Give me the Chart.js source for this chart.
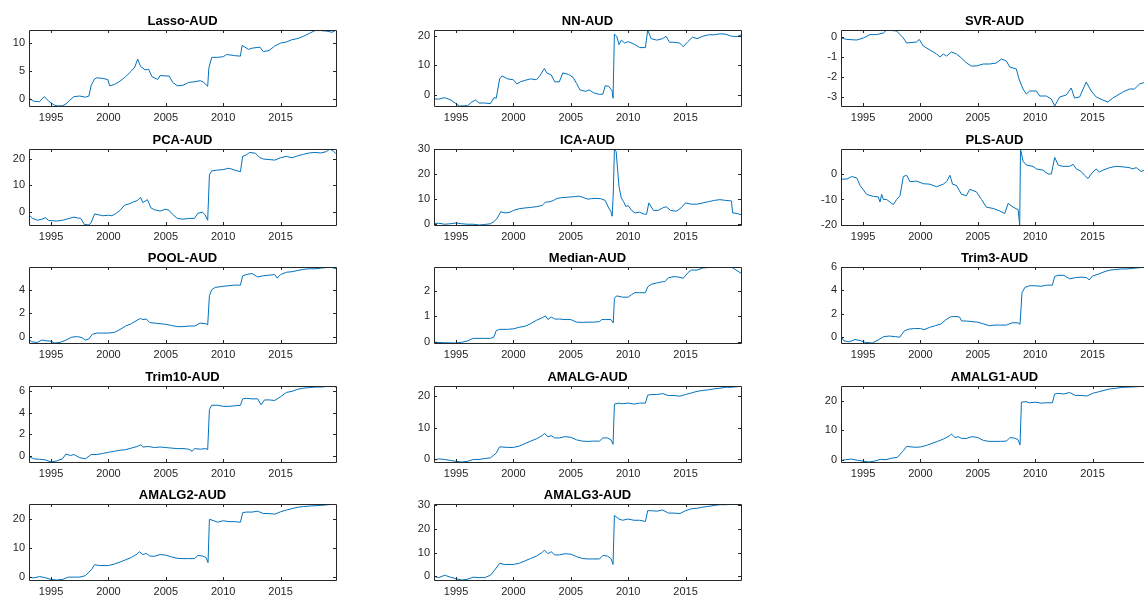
<!DOCTYPE html>
<html>
<head>
<meta charset="utf-8">
<title>AUD forecast series</title>
<script src="https://cdn.jsdelivr.net/npm/chart.js@4.4.1/dist/chart.umd.min.js"></script>
<style>
  html, body { margin: 0; padding: 0; background: #fff; }
  body { width: 1144px; height: 599px; position: relative; overflow: hidden; }
  canvas { position: absolute; }
</style>
</head>
<body>
<script>
// Cumulative series per model, [year, value] pairs

const lassoAud = [[1993.08,0.2],[1993.5,-0.3],[1994.0,-0.4],[1994.4,0.5],[1994.8,-0.3],[1995.0,-0.6],[1995.3,-1.0],[1995.6,-1.15],[1996.0,-1.1],[1996.3,-0.8],[1996.6,-0.2],[1997.0,0.5],[1997.5,0.6],[1998.0,0.4],[1998.3,0.6],[1998.5,2.5],[1998.8,3.6],[1999.0,3.8],[1999.5,3.7],[1999.95,3.5],[2000.1,2.4],[2000.5,2.6],[2001.0,3.2],[2001.5,4.0],[2002.0,5.0],[2002.3,5.7],[2002.55,7.1],[2002.8,5.8],[2003.2,5.2],[2003.5,5.3],[2003.8,4.0],[2004.3,3.5],[2004.5,4.2],[2005.3,4.1],[2005.6,3.0],[2006.0,2.4],[2006.5,2.5],[2007.0,3.0],[2007.5,3.1],[2008.0,3.3],[2008.3,3.0],[2008.65,2.3],[2008.75,5.5],[2009.0,7.4],[2009.5,7.4],[2010.0,7.5],[2010.3,7.9],[2011.0,7.7],[2011.5,7.6],[2011.65,9.5],[2012.2,8.8],[2012.5,9.0],[2013.2,9.2],[2013.5,8.4],[2014.0,8.6],[2014.5,9.4],[2015.0,9.9],[2015.5,10.1],[2016.0,10.5],[2016.5,10.7],[2017.0,11.1],[2017.5,11.6],[2018.0,12.1],[2018.5,12.1],[2019.0,12.0],[2019.5,11.8],[2019.83,12.2]];

const nnAud = [[1993.08,-1.2],[1993.5,-1.3],[1994.0,-0.8],[1994.5,-1.5],[1995.0,-2.8],[1995.3,-3.6],[1996.0,-3.5],[1996.4,-2.2],[1996.7,-1.6],[1997.0,-2.6],[1997.5,-2.6],[1998.0,-2.8],[1998.3,-0.8],[1998.5,-1.0],[1998.8,5.5],[1999.0,6.5],[1999.5,5.5],[2000.0,5.2],[2000.3,3.8],[2000.6,4.5],[2001.0,5.0],[2001.5,5.5],[2002.0,5.2],[2002.3,6.5],[2002.7,9.0],[2002.9,7.5],[2003.3,6.8],[2003.6,4.5],[2004.0,4.5],[2004.3,7.5],[2004.8,7.0],[2005.2,6.0],[2005.5,4.0],[2005.8,1.8],[2006.3,1.3],[2006.6,1.8],[2007.0,0.8],[2007.5,0.3],[2007.8,0.4],[2008.0,3.2],[2008.3,3.0],[2008.6,1.5],[2008.68,-1.0],[2008.8,20.5],[2009.0,19.8],[2009.2,17.0],[2009.4,18.5],[2009.7,17.5],[2010.0,18.0],[2010.5,17.2],[2011.0,16.0],[2011.5,16.0],[2011.7,21.9],[2012.0,19.0],[2012.5,18.5],[2013.0,19.0],[2013.3,19.8],[2013.6,17.8],[2014.0,17.8],[2014.5,17.5],[2014.8,16.3],[2015.2,18.0],[2015.6,19.5],[2016.0,19.0],[2016.5,19.8],[2017.0,20.3],[2017.5,20.3],[2018.0,20.6],[2018.5,20.5],[2019.0,19.8],[2019.5,19.7],[2019.83,20.3]];

const svrAud = [[1993.08,-0.05],[1993.58,-0.12],[1994.45,-0.15],[1995.03,-0.05],[1995.61,0.12],[1996.19,0.12],[1996.77,0.2],[1997.06,0.35],[1997.93,0.3],[1998.51,-0.05],[1998.8,-0.3],[1999.67,-0.25],[1999.9,-0.12],[2000.25,-0.45],[2000.83,-0.65],[2001.41,-0.85],[2001.7,-1.0],[2001.99,-0.85],[2002.28,-0.95],[2002.71,-0.75],[2003.14,-0.85],[2003.58,-1.05],[2004.01,-1.3],[2004.45,-1.45],[2004.88,-1.45],[2005.46,-1.35],[2006.04,-1.35],[2006.62,-1.3],[2007.06,-1.1],[2007.49,-1.2],[2007.78,-1.5],[2008.36,-1.6],[2008.59,-2.1],[2008.94,-2.6],[2009.23,-2.85],[2009.52,-2.7],[2010.1,-2.7],[2010.39,-2.95],[2010.97,-2.95],[2011.41,-3.1],[2011.7,-3.45],[2012.13,-3.0],[2012.71,-2.9],[2013.14,-2.55],[2013.43,-3.05],[2013.87,-3.0],[2014.45,-2.25],[2014.88,-2.7],[2015.32,-3.0],[2015.9,-3.15],[2016.33,-3.25],[2016.77,-3.05],[2017.64,-2.75],[2018.22,-2.6],[2018.65,-2.6],[2019.09,-2.35],[2019.38,-2.3],[2019.83,-2.2]];

const pcaAud = [[1993.08,-1.2],[1993.4,-2.5],[1993.8,-3.2],[1994.2,-2.8],[1994.5,-2.2],[1994.8,-3.3],[1995.5,-3.5],[1996.0,-3.2],[1996.5,-2.6],[1997.0,-2.0],[1997.3,-2.3],[1997.6,-2.5],[1997.9,-4.8],[1998.3,-5.0],[1998.5,-4.0],[1998.8,-0.8],[1999.2,-1.2],[1999.5,-1.5],[2000.0,-1.3],[2000.3,-1.5],[2000.7,-0.5],[2001.0,0.5],[2001.4,2.5],[2001.8,3.0],[2002.2,3.8],[2002.5,4.2],[2002.8,5.4],[2003.0,3.5],[2003.4,4.6],[2003.7,1.5],[2004.0,0.8],[2004.5,0.3],[2005.0,1.0],[2005.3,0.5],[2005.6,-1.0],[2006.0,-2.5],[2006.5,-2.8],[2007.0,-2.5],[2007.5,-2.5],[2007.8,-0.5],[2008.2,-0.2],[2008.4,-1.0],[2008.65,-3.2],[2008.8,14.0],[2009.0,15.5],[2009.5,15.8],[2010.0,16.0],[2010.5,16.5],[2011.0,15.8],[2011.5,15.2],[2011.7,21.0],[2012.0,21.5],[2012.3,22.5],[2012.8,22.2],[2013.2,20.5],[2013.5,20.0],[2014.0,19.8],[2014.5,19.6],[2015.0,20.5],[2015.5,21.0],[2016.0,20.5],[2016.5,21.2],[2017.0,21.8],[2017.5,22.3],[2018.0,22.5],[2018.5,22.3],[2019.0,22.8],[2019.3,23.8],[2019.6,23.0],[2019.83,22.0]];

const icaAud = [[1993.08,0.3],[1993.5,0.4],[1994.0,0.0],[1994.5,0.2],[1995.0,0.5],[1995.5,0.2],[1996.0,0.0],[1996.5,0.0],[1997.0,-0.3],[1997.5,-0.1],[1998.0,0.2],[1998.3,1.0],[1998.6,2.5],[1998.9,5.0],[1999.3,4.5],[1999.7,4.8],[2000.0,5.5],[2000.5,6.2],[2001.0,6.5],[2001.5,6.7],[2002.0,7.0],[2002.5,7.5],[2002.8,8.8],[2003.2,9.0],[2003.5,9.5],[2003.8,10.3],[2004.2,10.6],[2004.8,10.8],[2005.3,11.0],[2005.7,11.2],[2006.0,10.8],[2006.5,10.0],[2006.8,10.2],[2007.2,10.3],[2007.6,10.2],[2008.0,9.5],[2008.3,6.5],[2008.5,5.0],[2008.6,3.2],[2008.7,12.0],[2008.8,30.0],[2008.95,29.0],[2009.2,15.0],[2009.4,10.5],[2009.6,9.0],[2009.8,7.0],[2010.0,7.5],[2010.3,5.5],[2010.6,4.5],[2011.0,4.8],[2011.4,4.0],[2011.6,4.0],[2011.8,8.5],[2012.2,5.5],[2012.6,5.5],[2013.0,6.5],[2013.3,7.0],[2013.7,5.5],[2014.2,5.2],[2014.6,6.5],[2015.0,8.5],[2015.5,8.0],[2016.0,8.0],[2016.5,8.5],[2017.0,9.0],[2017.5,9.5],[2018.0,9.8],[2018.5,9.5],[2019.0,9.3],[2019.1,4.5],[2019.5,4.3],[2019.83,3.8]];

const plsAud = [[1993.08,-2.0],[1993.58,-2.0],[1994.01,-1.0],[1994.45,-1.5],[1994.74,-4.5],[1995.32,-8.0],[1995.9,-8.8],[1996.33,-9.0],[1996.48,-11.0],[1996.62,-8.0],[1996.77,-10.0],[1997.06,-10.0],[1997.64,-12.0],[1997.93,-10.0],[1998.22,-8.5],[1998.51,-1.0],[1998.8,-0.5],[1999.09,-3.0],[1999.67,-2.8],[2000.25,-3.8],[2000.83,-4.0],[2001.41,-5.0],[2001.99,-4.0],[2002.28,-3.0],[2002.57,-0.5],[2002.8,-4.0],[2003.14,-4.5],[2003.58,-8.0],[2004.01,-8.5],[2004.3,-6.0],[2004.88,-7.0],[2005.32,-10.0],[2005.75,-13.0],[2006.33,-13.5],[2006.91,-14.5],[2007.35,-15.5],[2007.64,-11.5],[2008.07,-13.0],[2008.51,-14.0],[2008.65,-20.0],[2008.72,9.8],[2008.94,5.0],[2009.23,3.5],[2009.81,3.0],[2010.1,2.0],[2010.68,1.5],[2011.12,0.0],[2011.41,0.0],[2011.7,6.5],[2012.0,3.5],[2012.4,3.0],[2013.0,3.0],[2013.3,3.8],[2013.58,2.0],[2014.01,1.0],[2014.3,-0.5],[2014.6,-1.8],[2014.88,0.0],[2015.3,2.0],[2015.6,0.8],[2015.9,1.5],[2016.5,2.5],[2017.06,3.0],[2017.64,2.8],[2018.2,2.5],[2018.5,2.0],[2018.8,2.5],[2019.23,1.0],[2019.5,1.5],[2019.83,1.2]];

const poolAud = [[1993.08,-0.2],[1993.3,-0.45],[1993.8,-0.5],[1994.2,-0.3],[1994.5,-0.35],[1995.0,-0.4],[1995.3,-0.55],[1995.8,-0.5],[1996.3,-0.3],[1996.8,-0.05],[1997.3,0.0],[1997.7,-0.1],[1998.0,-0.3],[1998.3,-0.2],[1998.6,0.2],[1999.0,0.3],[1999.5,0.3],[2000.0,0.3],[2000.5,0.35],[2001.0,0.6],[2001.5,0.9],[2002.0,1.1],[2002.5,1.4],[2002.8,1.55],[2003.0,1.45],[2003.3,1.5],[2003.6,1.2],[2004.0,1.15],[2004.5,1.1],[2005.0,1.05],[2005.5,0.95],[2006.0,0.85],[2006.5,0.85],[2007.0,0.9],[2007.5,0.9],[2008.0,1.15],[2008.5,1.1],[2008.65,1.0],[2008.8,3.5],[2009.0,4.0],[2009.3,4.2],[2010.0,4.3],[2010.5,4.35],[2011.0,4.4],[2011.5,4.4],[2011.7,5.2],[2012.0,5.3],[2012.5,5.4],[2013.0,5.1],[2013.5,5.2],[2014.0,5.25],[2014.5,5.3],[2014.7,5.0],[2015.0,5.3],[2015.5,5.5],[2016.0,5.55],[2016.5,5.65],[2017.0,5.75],[2017.5,5.8],[2018.0,5.8],[2018.5,5.85],[2019.0,5.9],[2019.3,5.95],[2019.83,5.8]];

const medianAud = [[1993.08,0.0],[1994.0,-0.02],[1995.0,-0.03],[1995.5,0.0],[1996.0,0.05],[1996.5,0.15],[1997.0,0.15],[1997.5,0.15],[1998.0,0.15],[1998.3,0.2],[1998.5,0.45],[1998.8,0.5],[1999.5,0.5],[2000.0,0.52],[2000.5,0.58],[2001.0,0.62],[2001.5,0.72],[2002.0,0.85],[2002.5,0.95],[2002.8,1.02],[2003.0,0.88],[2003.3,0.98],[2003.6,0.9],[2004.0,0.9],[2004.5,0.88],[2005.0,0.88],[2005.5,0.78],[2006.0,0.77],[2006.5,0.78],[2007.0,0.78],[2007.5,0.8],[2007.7,0.88],[2008.0,0.88],[2008.5,0.88],[2008.7,0.75],[2008.8,1.7],[2009.0,1.8],[2009.5,1.75],[2010.0,1.75],[2010.3,1.85],[2010.6,1.93],[2011.0,1.92],[2011.5,1.92],[2011.7,2.15],[2012.0,2.25],[2012.5,2.3],[2013.0,2.35],[2013.2,2.35],[2013.5,2.5],[2014.0,2.55],[2014.5,2.52],[2014.8,2.48],[2015.2,2.7],[2015.5,2.8],[2016.0,2.8],[2016.5,2.88],[2017.0,2.9],[2018.0,2.9],[2018.5,2.9],[2019.0,2.92],[2019.4,2.8],[2019.83,2.68]];

const trim3Aud = [[1993.08,0.1],[1993.3,-0.35],[1993.8,-0.45],[1994.3,-0.25],[1994.8,-0.35],[1995.2,-0.5],[1995.8,-0.55],[1996.3,-0.3],[1996.8,0.0],[1997.3,0.05],[1997.8,0.0],[1998.2,-0.05],[1998.6,0.5],[1999.0,0.65],[1999.5,0.7],[2000.0,0.7],[2000.3,0.6],[2000.8,0.8],[2001.3,0.95],[2001.8,1.1],[2002.2,1.45],[2002.6,1.7],[2003.0,1.75],[2003.4,1.7],[2003.6,1.35],[2004.0,1.35],[2004.5,1.3],[2005.0,1.25],[2005.5,1.1],[2006.0,0.95],[2006.5,1.0],[2007.0,1.0],[2007.5,1.0],[2008.0,1.2],[2008.5,1.2],[2008.68,1.05],[2008.85,3.8],[2009.1,4.25],[2009.5,4.4],[2010.0,4.4],[2010.5,4.35],[2011.0,4.45],[2011.5,4.45],[2011.7,5.2],[2012.0,5.3],[2012.5,5.3],[2013.0,5.0],[2013.5,5.1],[2014.0,5.15],[2014.5,5.1],[2014.7,4.9],[2015.0,5.25],[2015.5,5.4],[2016.0,5.6],[2016.5,5.75],[2017.0,5.8],[2017.5,5.85],[2018.0,5.85],[2018.5,5.9],[2019.0,5.95],[2019.5,6.02],[2019.83,6.0]];

const trim10Aud = [[1993.08,-0.1],[1993.5,-0.3],[1994.0,-0.35],[1994.5,-0.4],[1995.0,-0.6],[1995.5,-0.5],[1996.0,-0.3],[1996.3,0.15],[1996.7,0.0],[1997.0,0.1],[1997.5,-0.2],[1998.0,-0.3],[1998.5,0.1],[1999.0,0.1],[1999.5,0.2],[2000.0,0.3],[2000.5,0.4],[2001.0,0.5],[2001.5,0.55],[2002.0,0.7],[2002.5,0.85],[2002.8,1.0],[2003.0,0.8],[2003.5,0.85],[2004.0,0.75],[2004.5,0.8],[2005.0,0.75],[2005.5,0.7],[2006.0,0.65],[2006.5,0.65],[2007.0,0.6],[2007.3,0.4],[2007.5,0.65],[2008.0,0.6],[2008.5,0.65],[2008.65,0.55],[2008.8,4.3],[2009.0,4.7],[2009.5,4.7],[2010.0,4.6],[2010.5,4.6],[2011.0,4.65],[2011.5,4.7],[2011.7,5.3],[2012.0,5.35],[2012.5,5.3],[2013.0,5.3],[2013.3,4.75],[2013.6,5.2],[2014.0,5.2],[2014.5,5.15],[2015.0,5.5],[2015.5,5.9],[2016.0,6.0],[2016.5,6.2],[2017.0,6.3],[2017.5,6.35],[2018.0,6.4],[2018.5,6.4],[2019.0,6.45],[2019.5,6.5],[2019.83,6.4]];

const amalgAud = [[1993.08,-0.2],[1993.5,0.2],[1994.0,0.0],[1994.5,-0.3],[1995.0,-0.6],[1995.5,-0.8],[1996.0,-0.6],[1996.5,0.0],[1997.0,0.0],[1997.5,0.3],[1998.0,0.5],[1998.5,2.0],[1998.8,4.0],[1999.5,3.8],[2000.0,3.8],[2000.5,4.2],[2001.0,5.0],[2001.5,5.8],[2002.0,6.5],[2002.5,7.5],[2002.7,8.2],[2003.0,7.2],[2003.3,7.5],[2003.6,6.8],[2004.0,6.8],[2004.5,7.2],[2005.0,7.0],[2005.5,6.2],[2006.0,5.8],[2006.5,5.7],[2007.0,5.8],[2007.5,5.8],[2007.8,6.8],[2008.2,6.8],[2008.5,6.2],[2008.68,4.8],[2008.8,17.5],[2009.2,17.8],[2009.5,17.6],[2010.0,17.8],[2010.5,17.5],[2011.0,17.8],[2011.5,17.8],[2011.7,20.3],[2012.0,20.5],[2012.5,20.5],[2013.0,20.8],[2013.5,20.2],[2014.0,20.2],[2014.5,20.0],[2015.0,20.5],[2015.5,21.0],[2016.0,21.5],[2016.5,21.8],[2017.0,22.0],[2017.5,22.3],[2018.0,22.5],[2018.5,22.8],[2019.0,22.8],[2019.5,23.0],[2019.83,23.2]];

const amalg1Aud = [[1993.08,-0.3],[1993.5,0.0],[1994.0,0.2],[1994.5,-0.2],[1995.0,-0.5],[1995.5,-0.8],[1996.0,-0.5],[1996.5,0.1],[1997.0,0.0],[1997.5,0.5],[1998.0,0.8],[1998.5,3.0],[1998.8,4.5],[1999.5,4.2],[2000.0,4.3],[2000.5,4.8],[2001.0,5.5],[2001.5,6.2],[2002.0,7.0],[2002.5,8.0],[2002.7,8.7],[2003.0,7.5],[2003.3,7.8],[2003.6,7.2],[2004.0,7.2],[2004.5,7.8],[2005.0,7.5],[2005.5,6.5],[2006.0,6.2],[2006.5,6.2],[2007.0,6.2],[2007.5,6.3],[2007.8,7.5],[2008.2,7.3],[2008.5,6.8],[2008.68,5.0],[2008.8,19.5],[2009.2,19.7],[2009.5,19.3],[2010.0,19.5],[2010.5,19.2],[2011.0,19.3],[2011.5,19.3],[2011.7,22.3],[2012.0,22.5],[2012.5,22.3],[2013.0,22.8],[2013.5,21.8],[2014.0,21.8],[2014.5,21.6],[2015.0,22.5],[2015.5,23.0],[2016.0,23.5],[2016.5,24.0],[2017.0,24.2],[2017.5,24.5],[2018.0,24.6],[2018.5,24.7],[2019.0,24.8],[2019.5,25.0],[2019.83,25.0]];

const amalg2Aud = [[1993.08,0.0],[1993.5,-0.3],[1994.0,0.2],[1994.5,-0.2],[1995.0,-0.8],[1995.5,-1.0],[1996.0,-0.8],[1996.5,0.0],[1997.0,0.0],[1997.5,0.0],[1998.0,0.5],[1998.5,2.5],[1998.8,4.3],[1999.2,4.0],[2000.0,4.0],[2000.5,4.5],[2001.0,5.2],[2001.5,6.0],[2002.0,6.8],[2002.5,8.0],[2002.7,8.8],[2003.0,7.8],[2003.3,8.2],[2003.6,7.3],[2004.0,7.2],[2004.5,7.8],[2005.0,7.6],[2005.5,7.0],[2006.0,6.5],[2006.5,6.4],[2007.0,6.4],[2007.5,6.4],[2007.8,7.5],[2008.2,7.3],[2008.5,6.8],[2008.68,5.0],[2008.8,20.0],[2009.2,19.5],[2009.5,19.0],[2010.0,19.5],[2010.5,19.2],[2011.0,19.2],[2011.5,19.0],[2011.7,22.3],[2012.0,22.5],[2012.5,22.5],[2013.0,22.8],[2013.5,22.0],[2014.0,22.0],[2014.5,21.8],[2015.0,22.6],[2015.5,23.2],[2016.0,23.7],[2016.5,24.2],[2017.0,24.4],[2017.5,24.6],[2018.0,24.7],[2018.5,24.8],[2019.0,25.0],[2019.5,25.2],[2019.83,25.3]];

const amalg3Aud = [[1993.08,0.0],[1993.5,-0.5],[1994.0,0.5],[1994.5,-0.3],[1995.0,-1.0],[1995.5,-1.5],[1996.0,-1.2],[1996.5,-0.3],[1997.0,-0.5],[1997.5,-0.5],[1998.0,0.5],[1998.5,3.5],[1998.8,5.5],[1999.2,5.0],[2000.0,5.0],[2000.5,5.5],[2001.0,6.5],[2001.5,7.5],[2002.0,8.5],[2002.5,10.0],[2002.7,11.0],[2003.0,9.5],[2003.3,10.3],[2003.6,9.0],[2004.0,9.0],[2004.5,9.5],[2005.0,9.3],[2005.5,8.3],[2006.0,7.5],[2006.5,7.3],[2007.0,7.3],[2007.5,7.3],[2007.8,8.8],[2008.2,8.5],[2008.5,7.5],[2008.68,5.0],[2008.8,25.5],[2009.2,24.0],[2009.5,23.5],[2010.0,24.0],[2010.5,23.5],[2011.0,23.5],[2011.5,23.0],[2011.7,27.5],[2012.0,27.5],[2012.5,27.3],[2013.0,27.8],[2013.5,26.5],[2014.0,26.5],[2014.5,26.3],[2015.0,27.5],[2015.5,28.3],[2016.0,28.5],[2016.5,29.0],[2017.0,29.3],[2017.5,29.7],[2018.0,30.0],[2018.5,30.0],[2019.0,30.2],[2019.5,30.3],[2019.83,30.0]];

// Panel titles, in reading order (3 per row)
const titles = ['Lasso-AUD', 'NN-AUD', 'SVR-AUD', 'PCA-AUD', 'ICA-AUD', 'PLS-AUD',
  'POOL-AUD', 'Median-AUD', 'Trim3-AUD', 'Trim10-AUD', 'AMALG-AUD', 'AMALG1-AUD',
  'AMALG2-AUD', 'AMALG3-AUD'];
const seriesList = [lassoAud, nnAud, svrAud, pcaAud, icaAud, plsAud, poolAud, medianAud,
  trim3Aud, trim10Aud, amalgAud, amalg1Aud, amalg2Aud, amalg3Aud];

// Tick labels
const xTicks = [1995, 2000, 2005, 2010, 2015];
const yTicksList = [
  [0, 5, 10], [0, 10, 20], [-3, -2, -1, 0],
  [0, 10, 20], [0, 10, 20, 30], [-20, -10, 0],
  [0, 2, 4], [0, 1, 2], [0, 2, 4, 6],
  [0, 2, 4, 6], [0, 10, 20], [0, 10, 20],
  [0, 10, 20], [0, 10, 20, 30]
];
const xMin = 1993.08, xMax = 2019.83;

// grid geometry (axes boxes in page pixels)
const colLeft = [29, 434, 841];
const rowTop = [30, 148.5, 267, 385.5, 504];
const AX_W = 307, AX_H = 76;
const PAD_L = 40, PAD_T = 24, PAD_R = 6, PAD_B = 24;
const FONT = 'Arial, "Liberation Sans", Helvetica, sans-serif';
const AXIS_COLOR = '#262626';

// frame, inward ticks and title, drawn the way MATLAB does it
const boxAxes = {
  id: 'boxAxes',
  afterDraw(chart, args, opts) {
    const { ctx, chartArea: a, scales } = chart;
    const t = 3;
    ctx.save();
    ctx.strokeStyle = AXIS_COLOR;
    ctx.lineWidth = 1;
    ctx.beginPath();
    ctx.rect(Math.round(a.left) + 0.5, Math.round(a.top) + 0.5,
      Math.round(a.right - a.left), Math.round(a.bottom - a.top));
    for (const tk of scales.x.ticks) {
      const px = Math.round(scales.x.getPixelForValue(tk.value)) + 0.5;
      ctx.moveTo(px, a.bottom); ctx.lineTo(px, a.bottom - t);
      ctx.moveTo(px, a.top); ctx.lineTo(px, a.top + t);
    }
    for (const tk of scales.y.ticks) {
      const py = Math.round(scales.y.getPixelForValue(tk.value)) + 0.5;
      ctx.moveTo(a.left, py); ctx.lineTo(a.left + t, py);
      ctx.moveTo(a.right, py); ctx.lineTo(a.right - t, py);
    }
    ctx.stroke();
    ctx.fillStyle = '#000';
    ctx.font = 'bold 13px ' + FONT;
    ctx.textAlign = 'center';
    ctx.textBaseline = 'alphabetic';
    ctx.fillText(opts.text, (a.left + a.right) / 2, a.top - 5);
    ctx.restore();
  }
};

function makePanel(i) {
  const col = i % 3, row = Math.floor(i / 3);
  const pts = seriesList[i];
  const ys = pts.map(p => p[1]);
  const yTicks = yTicksList[i];

  const canvas = document.createElement('canvas');
  canvas.width = PAD_L + AX_W + PAD_R;
  canvas.height = PAD_T + AX_H + PAD_B;
  canvas.style.left = (colLeft[col] - PAD_L) + 'px';
  canvas.style.top = (rowTop[row] - PAD_T) + 'px';
  document.body.appendChild(canvas);

  new Chart(canvas.getContext('2d'), {
    type: 'line',
    data: {
      datasets: [{
        data: pts.map(p => ({ x: p[0], y: p[1] })),
        borderColor: '#0072BD',
        borderWidth: 1,
        pointRadius: 0,
        tension: 0,
        fill: false
      }]
    },
    options: {
      responsive: false,
      animation: false,
      layout: { padding: { top: PAD_T, right: PAD_R, left: 0, bottom: 0 } },
      plugins: {
        legend: { display: false },
        tooltip: { enabled: false },
        title: { display: false },
        boxAxes: { text: titles[i] }
      },
      scales: {
        x: {
          type: 'linear',
          min: xMin,
          max: xMax,
          grid: { display: false, drawTicks: false },
          border: { display: false },
          afterBuildTicks: s => { s.ticks = xTicks.map(v => ({ value: v })); },
          afterFit: s => { s.height = PAD_B; },
          ticks: {
            padding: 5,
            maxRotation: 0,
            color: AXIS_COLOR,
            font: { family: FONT, size: 11 },
            callback: v => String(v)
          }
        },
        y: {
          min: Math.min(...ys),
          max: Math.max(...ys),
          grid: { display: false, drawTicks: false },
          border: { display: false },
          afterBuildTicks: s => { s.ticks = yTicks.map(v => ({ value: v })); },
          afterFit: s => { s.width = PAD_L; },
          ticks: {
            padding: 4,
            color: AXIS_COLOR,
            font: { family: FONT, size: 11 },
            callback: v => String(v)
          }
        }
      }
    },
    plugins: [boxAxes]
  });
}

for (let i = 0; i < seriesList.length; i++) makePanel(i);
</script>
</body>
</html>
